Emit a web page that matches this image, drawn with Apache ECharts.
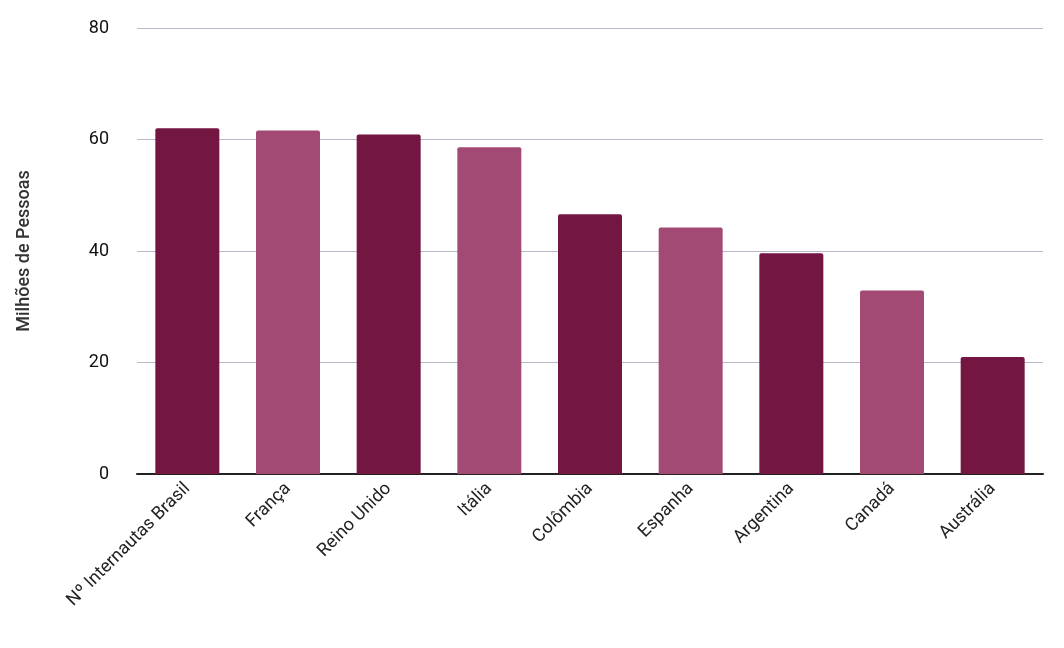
<!DOCTYPE html>
<html><head><meta charset="utf-8">
<script src="https://cdn.jsdelivr.net/npm/echarts@6/dist/echarts.min.js"></script>
<style>html,body{margin:0;background:#fff}#c{width:1064px;height:648px}</style>
</head><body><div id="c"></div>
<script>
const categories = ["Nº Internautas Brasil","França","Reino Unido","Itália","Colômbia","Espanha","Argentina","Canadá","Austrália"];
const values = [62, 61.6, 60.9, 58.6, 46.6, 44.2, 39.6, 32.9, 21];
const barColors = ["#731642","#a34a74"];
const chart = echarts.init(document.getElementById('c'));
chart.setOption({
  animation:false,
  grid:{left:137,right:21,top:28,bottom:174},
  xAxis:{type:'category',data:categories,
    axisLine:{lineStyle:{color:'#222',width:2}},axisTick:{show:false},
    axisLabel:{rotate:45,color:'#222',fontSize:18,fontFamily:'Roboto',interval:0,margin:12}},
  yAxis:{type:'value',min:0,max:80,interval:20,
    name:'Milhões de Pessoas',nameLocation:'middle',nameGap:104,
    nameTextStyle:{fontSize:18,color:'#333',fontFamily:'Roboto',fontWeight:500},
    axisLabel:{color:'#111',fontSize:18,fontFamily:'Roboto',margin:28},
    splitLine:{lineStyle:{color:'#b8b8c8'}}},
  series:[{type:'bar',barWidth:64,
    data:values.map((v,i)=>({value:v,itemStyle:{color:barColors[i%2]}})),
    itemStyle:{borderRadius:[2,2,0,0]}}]
});
</script></body></html>
